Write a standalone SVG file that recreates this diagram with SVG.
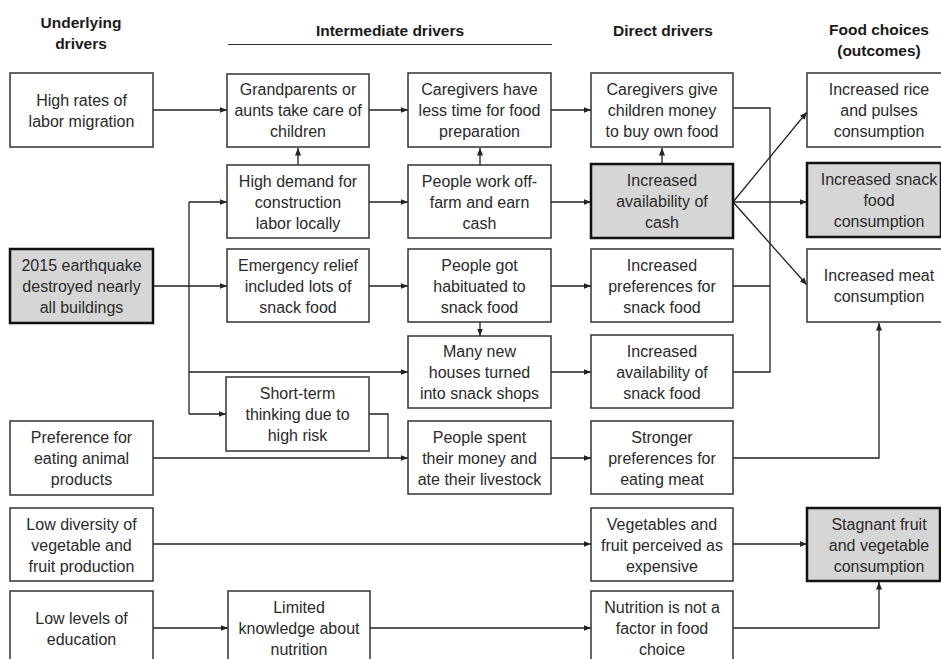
<svg xmlns="http://www.w3.org/2000/svg" width="941" height="659" viewBox="0 0 941 659">
<defs>
<marker id="ah" markerUnits="userSpaceOnUse" markerWidth="8" markerHeight="7" refX="7.5" refY="3.5" orient="auto">
<path d="M0,0.5 L7.5,3.5 L0,6.5 z" fill="#222"/>
</marker>
<style>
.box{fill:#fff;stroke:#333;stroke-width:1.5}
.hl{fill:#d6d6d6;stroke:#111;stroke-width:2.5}
.t{font-family:"Liberation Sans",Arial,sans-serif;font-size:16px;fill:#2a2a2a;text-anchor:middle}
.h{font-family:"Liberation Sans",Arial,sans-serif;font-size:15.5px;font-weight:bold;fill:#1a1a1a;text-anchor:middle}
.c{stroke:#222;stroke-width:1.3;fill:none}
.a{marker-end:url(#ah)}
</style>
</defs>
<rect width="941" height="659" fill="#fff"/>
<g id="headers">
<text class="h"><tspan x="81" y="28">Underlying</tspan><tspan x="81" y="49">drivers</tspan></text>
<text class="h" x="390" y="36">Intermediate drivers</text>
<line x1="228" y1="44.5" x2="552" y2="44.5" stroke="#333" stroke-width="1.2"/>
<text class="h" x="663" y="36">Direct drivers</text>
<text class="h"><tspan x="879" y="35">Food choices</tspan><tspan x="879" y="56">(outcomes)</tspan></text>
</g>
<g id="connectors">
<path class="c a" d="M153,110 H227"/>
<path class="c a" d="M369,110 H408"/>
<path class="c a" d="M551,110 H591"/>
<path class="c a" d="M298,165 V148"/>
<path class="c a" d="M480,165 V148"/>
<path class="c a" d="M662,163 V148"/>
<path class="c a" d="M369,202 H408"/>
<path class="c a" d="M551,202 H591"/>
<path class="c a" d="M153,286 H227"/>
<path class="c" d="M189,202 V414"/>
<path class="c a" d="M189,202 H227"/>
<path class="c a" d="M189,372 H408"/>
<path class="c a" d="M189,414 H226"/>
<path class="c a" d="M369,286 H408"/>
<path class="c a" d="M551,286 H591"/>
<path class="c a" d="M480,322 V336"/>
<path class="c a" d="M551,372 H591"/>
<path class="c" d="M369,414 H388 V458"/>
<path class="c a" d="M153,458 H408"/>
<path class="c a" d="M551,458 H591"/>
<path class="c a" d="M733,458 H879 V323"/>
<path class="c a" d="M153,544 H591"/>
<path class="c a" d="M733,544 H807"/>
<path class="c a" d="M153,628 H228"/>
<path class="c a" d="M370,628 H591"/>
<path class="c a" d="M733,628 H879 V582"/>
<path class="c" d="M733,108 H770 V372 H733"/>
<path class="c" d="M733,286 H770"/>
<path class="c a" d="M733,202 L807,112"/>
<path class="c a" d="M733,202 H807"/>
<path class="c a" d="M733,202 L807,285"/>
</g>
<g id="n-migration"><rect class="box" x="10" y="73" width="143" height="74"/><text class="t"><tspan x="81.5" y="106">High rates of</tspan><tspan x="81.5" y="127">labor migration</tspan></text></g>
<g id="n-earthquake"><rect class="hl" x="10" y="249" width="143" height="74"/><text class="t"><tspan x="81.5" y="271">2015 earthquake</tspan><tspan x="81.5" y="292">destroyed nearly</tspan><tspan x="81.5" y="313">all buildings</tspan></text></g>
<g id="n-animal"><rect class="box" x="10" y="421" width="143" height="74"/><text class="t"><tspan x="81.5" y="443">Preference for</tspan><tspan x="81.5" y="464">eating animal</tspan><tspan x="81.5" y="485">products</tspan></text></g>
<g id="n-diversity"><rect class="box" x="10" y="508" width="143" height="73"/><text class="t"><tspan x="81.5" y="529.5">Low diversity of</tspan><tspan x="81.5" y="550.5">vegetable and</tspan><tspan x="81.5" y="571.5">fruit production</tspan></text></g>
<g id="n-education"><rect class="box" x="10" y="591" width="143" height="74"/><text class="t"><tspan x="81.5" y="624">Low levels of</tspan><tspan x="81.5" y="645">education</tspan></text></g>
<g id="n-grandparents"><rect class="box" x="227" y="74" width="142" height="73"/><text class="t"><tspan x="298" y="95">Grandparents or</tspan><tspan x="298" y="116">aunts take care of</tspan><tspan x="298" y="137">children</tspan></text></g>
<g id="n-construction"><rect class="box" x="227" y="165" width="142" height="73"/><text class="t"><tspan x="298" y="186.5">High demand for</tspan><tspan x="298" y="207.5">construction</tspan><tspan x="298" y="228.5">labor locally</tspan></text></g>
<g id="n-relief"><rect class="box" x="227" y="249" width="142" height="73"/><text class="t"><tspan x="298" y="270.5">Emergency relief</tspan><tspan x="298" y="291.5">included lots of</tspan><tspan x="298" y="312.5">snack food</tspan></text></g>
<g id="n-shortterm"><rect class="box" x="226" y="377" width="143" height="74"/><text class="t"><tspan x="297.5" y="399">Short-term</tspan><tspan x="297.5" y="420">thinking due to</tspan><tspan x="297.5" y="441">high risk</tspan></text></g>
<g id="n-knowledge"><rect class="box" x="228" y="591" width="142" height="74"/><text class="t"><tspan x="299" y="613">Limited</tspan><tspan x="299" y="634">knowledge about</tspan><tspan x="299" y="655">nutrition</tspan></text></g>
<g id="n-lesstime"><rect class="box" x="408" y="73" width="143" height="74"/><text class="t"><tspan x="479.5" y="95">Caregivers have</tspan><tspan x="479.5" y="116">less time for food</tspan><tspan x="479.5" y="137">preparation</tspan></text></g>
<g id="n-offfarm"><rect class="box" x="408" y="165" width="143" height="73"/><text class="t"><tspan x="479.5" y="186.5">People work off-</tspan><tspan x="479.5" y="207.5">farm and earn</tspan><tspan x="479.5" y="228.5">cash</tspan></text></g>
<g id="n-habituated"><rect class="box" x="408" y="249" width="143" height="73"/><text class="t"><tspan x="479.5" y="270.5">People got</tspan><tspan x="479.5" y="291.5">habituated to</tspan><tspan x="479.5" y="312.5">snack food</tspan></text></g>
<g id="n-shops"><rect class="box" x="408" y="336" width="143" height="72"/><text class="t"><tspan x="479.5" y="357">Many new</tspan><tspan x="479.5" y="378">houses turned</tspan><tspan x="479.5" y="399">into snack shops</tspan></text></g>
<g id="n-livestock"><rect class="box" x="408" y="421" width="143" height="73"/><text class="t"><tspan x="479.5" y="442.5">People spent</tspan><tspan x="479.5" y="463.5">their money and</tspan><tspan x="479.5" y="484.5">ate their livestock</tspan></text></g>
<g id="n-money"><rect class="box" x="591" y="73" width="142" height="74"/><text class="t"><tspan x="662" y="95">Caregivers give</tspan><tspan x="662" y="116">children money</tspan><tspan x="662" y="137">to buy own food</tspan></text></g>
<g id="n-cash"><rect class="hl" x="591" y="164" width="142" height="74"/><text class="t"><tspan x="662" y="186">Increased</tspan><tspan x="662" y="207">availability of</tspan><tspan x="662" y="228">cash</tspan></text></g>
<g id="n-prefsnack"><rect class="box" x="591" y="249" width="142" height="73"/><text class="t"><tspan x="662" y="270.5">Increased</tspan><tspan x="662" y="291.5">preferences for</tspan><tspan x="662" y="312.5">snack food</tspan></text></g>
<g id="n-availsnack"><rect class="box" x="591" y="335" width="142" height="73"/><text class="t"><tspan x="662" y="356.5">Increased</tspan><tspan x="662" y="377.5">availability of</tspan><tspan x="662" y="398.5">snack food</tspan></text></g>
<g id="n-prefmeat"><rect class="box" x="591" y="421" width="142" height="73"/><text class="t"><tspan x="662" y="442.5">Stronger</tspan><tspan x="662" y="463.5">preferences for</tspan><tspan x="662" y="484.5">eating meat</tspan></text></g>
<g id="n-expensive"><rect class="box" x="591" y="508" width="142" height="73"/><text class="t"><tspan x="662" y="529.5">Vegetables and</tspan><tspan x="662" y="550.5">fruit perceived as</tspan><tspan x="662" y="571.5">expensive</tspan></text></g>
<g id="n-nutrition"><rect class="box" x="591" y="591" width="142" height="74"/><text class="t"><tspan x="662" y="613">Nutrition is not a</tspan><tspan x="662" y="634">factor in food</tspan><tspan x="662" y="655">choice</tspan></text></g>
<g id="n-rice"><rect class="box" x="807" y="73" width="135" height="74"/><text class="t"><tspan x="879" y="95">Increased rice</tspan><tspan x="879" y="116">and pulses</tspan><tspan x="879" y="137">consumption</tspan></text></g>
<g id="n-snack"><rect class="hl" x="807" y="163" width="134" height="74"/><text class="t"><tspan x="879" y="185">Increased snack</tspan><tspan x="879" y="206">food</tspan><tspan x="879" y="227">consumption</tspan></text></g>
<g id="n-meat"><rect class="box" x="807" y="249" width="135" height="73"/><text class="t"><tspan x="879" y="281">Increased meat</tspan><tspan x="879" y="302">consumption</tspan></text></g>
<g id="n-stagnant"><rect class="hl" x="807" y="508" width="133" height="73"/><text class="t"><tspan x="879" y="529.5">Stagnant fruit</tspan><tspan x="879" y="550.5">and vegetable</tspan><tspan x="879" y="571.5">consumption</tspan></text></g>
</svg>
